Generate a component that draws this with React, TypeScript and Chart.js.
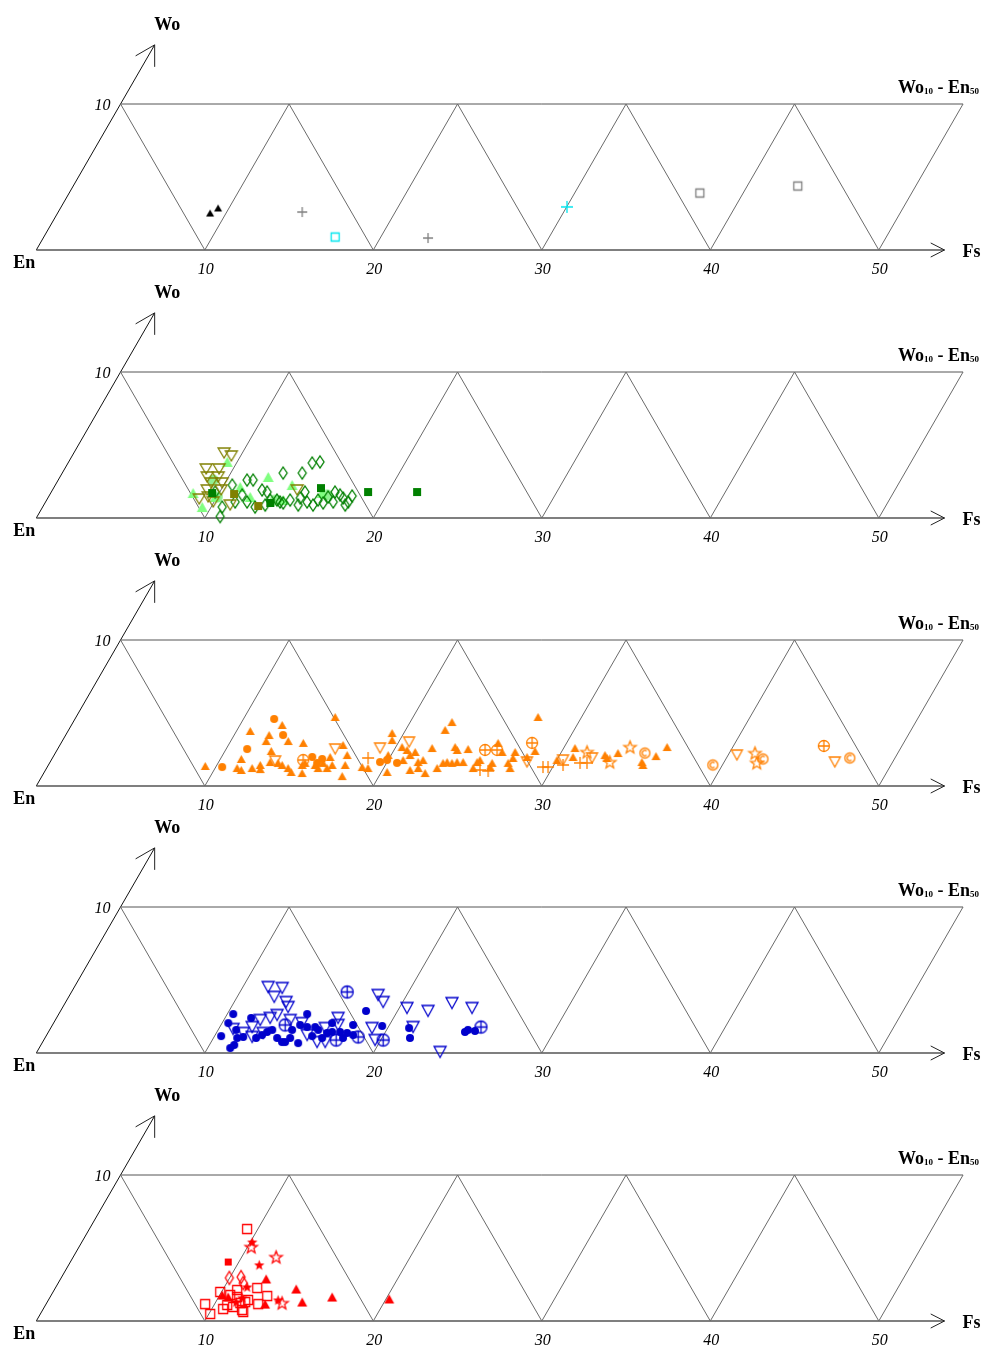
import React, { useEffect, useRef } from 'react';
import { Chart, registerables } from 'chart.js';
Chart.register(...registerables);

// ---- axis / grid data (Fs %, Wo %) ----
const FS_TICKS = [10, 20, 30, 40, 50];
const GRID_FS = [0, 10, 20, 30, 40, 50];
const WO_TOP = 10;
const FS_ARROW_END = 53.9;
const WO_ARROW_END = 14.05;

// ---- panel 1 data: [Fs, Wo] ----
const P1_BLACK_TRI = [[9.05, 2.53], [9.35, 2.88]];
const P1_GRAY_PLUS = [[14.48, 2.6], [22.84, 0.82]];
const P1_CYAN_SQUARE = [[17.29, 0.89]];
const P1_CYAN_PLUS = [[30.02, 2.95]];
const P1_GRAY_SQUARE = [[37.43, 3.9], [43.0, 4.38]];

// ---- panel 2 ----
const P2_OLIVE_TRI_DOWN = [[8.92, 4.45], [9.45, 4.25], [8.4, 3.36], [9.17, 3.36], [8.74, 2.81], [9.39, 2.81], [9.18, 2.4], [9.83, 2.4], [9.18, 1.92], [10.01, 1.92], [9.48, 1.44], [9.02, 1.3], [9.95, 1.1], [11.06, 0.89], [14.52, 1.92]];
const P2_LIGHT_TRI = [[9.41, 3.84], [12.36, 2.81], [8.45, 1.71], [9.47, 0.75], [11.04, 2.12], [14.05, 2.26], [16.1, 1.71], [11.97, 1.44], [14.04, 1.23], [9.9, 1.44]];
const P2_LIGHT_BLOB = [[9.2, 2.6], [10.02, 1.44], [16.47, 1.58], [13.56, 1.23]];
const P2_GREEN_DIAMOND = [[14.92, 3.84], [14.49, 3.77], [13.11, 3.08], [14.24, 3.08], [11.21, 2.6], [11.57, 2.6], [10.5, 2.26], [12.44, 1.92], [12.81, 1.78], [15.06, 1.78], [16.84, 1.78], [11.96, 1.1], [10.86, 0.1], [13.67, 1.23], [13.92, 1.1], [14.14, 1.03], [15.52, 1.1], [15.98, 0.89], [16.51, 1.03], [17.07, 1.1], [17.53, 1.37], [17.96, 1.1], [15.1, 0.89], [13.14, 0.89], [12.61, 0.75], [10.66, 0.75], [11.25, 1.1], [14.45, 1.23], [17.24, 1.58], [17.89, 0.89], [13.27, 1.23], [11.43, 1.58], [14.98, 1.37], [16.11, 1.23], [16.6, 1.44], [9.73, 1.78], [17.99, 1.51]];
const P2_GREEN_SQUARE = [[15.87, 2.05], [18.8, 1.78], [21.71, 1.78], [13.37, 1.03], [9.58, 1.71]];
const P2_OLIVE_SQUARE = [[10.92, 1.64], [12.76, 0.82]];

// ---- panel 3 ----
const P3_TRI = [[9.34, 1.37], [10.81, 3.77], [12.5, 4.18], [12.07, 3.49], [12.1, 3.08], [13.41, 3.08], [12.74, 2.4], [14.37, 2.95], [11.24, 1.85], [11.3, 1.23], [11.61, 1.1], [12.19, 1.23], [12.57, 1.44], [12.71, 1.16], [13.06, 1.64], [13.56, 1.58], [13.87, 1.44], [14.33, 1.23], [14.64, 0.96], [15.33, 0.89], [15.06, 1.44], [15.16, 1.58], [15.83, 1.44], [16.11, 1.23], [16.23, 1.58], [16.64, 1.23], [16.44, 1.99], [16.84, 1.44], [15.37, 4.73], [16.8, 2.81], [17.39, 2.12], [17.61, 1.44], [17.81, 0.68], [18.69, 1.3], [19.07, 1.23], [19.3, 3.63], [19.54, 3.15], [19.82, 2.12], [20.37, 2.67], [20.77, 2.47], [21.12, 2.12], [21.32, 2.33], [20.88, 1.78], [21.84, 1.64], [22.06, 1.78], [22.19, 2.6], [22.34, 3.84], [21.63, 1.1], [22.05, 1.23], [22.63, 0.89], [23.17, 1.23], [23.35, 1.58], [20.34, 0.96], [22.48, 4.38], [27.41, 4.73], [23.52, 2.67], [23.74, 2.47], [24.36, 2.53], [23.56, 1.64], [23.88, 1.58], [24.15, 1.64], [24.51, 1.64], [25.34, 1.64], [25.44, 1.78], [25.31, 1.23], [26.26, 1.58], [26.28, 1.3], [27.21, 1.58], [27.5, 1.23], [27.25, 2.33], [27.33, 1.92], [25.93, 2.95], [26.48, 2.33], [28.13, 1.99], [28.4, 2.4], [30.01, 1.78], [30.67, 2.6], [30.86, 1.99], [32.69, 2.12], [32.91, 1.92], [33.39, 2.26], [35.75, 2.05], [36.1, 2.67], [35.12, 1.64], [35.28, 1.44]];
const P3_CIRCLE = [[11.82, 4.59], [12.9, 3.49], [11.25, 2.53], [10.38, 1.3], [15.38, 1.99], [16.04, 1.85], [15.88, 1.58], [19.58, 1.64], [19.93, 1.78], [20.62, 1.58]];
const P3_TRI_DOWN = [[16.47, 2.53], [13.32, 1.71], [19.1, 2.6], [20.62, 3.01], [28.3, 1.64], [30.37, 1.78], [32.02, 1.92], [40.52, 2.12], [46.57, 1.64]];
const P3_CIRCLE_CROSS = [[14.95, 1.78], [25.4, 2.47], [26.11, 2.47], [27.95, 2.95], [45.37, 2.74]];
const P3_PLUS = [[18.73, 1.92], [25.78, 1.1], [26.3, 1.03], [29.42, 1.3], [29.72, 1.3], [30.54, 1.44], [31.48, 1.58], [31.89, 1.58]];
const P3_STAR = [[31.52, 2.33], [33.22, 1.64], [33.9, 2.67], [41.52, 2.26], [41.97, 1.58]];
const P3_COPYRIGHT = [[34.99, 2.26], [39.43, 1.44], [42.2, 1.85], [47.32, 1.92]];

// ---- panel 4 ----
const P4_TRI_DOWN = [[11.5, 4.52], [12.37, 4.45], [12.2, 3.84], [13.08, 3.49], [13.37, 3.15], [18.3, 3.97], [18.84, 3.49], [20.46, 3.08], [21.81, 2.88], [22.96, 3.42], [24.32, 3.08], [23.93, 0.07], [12.99, 2.6], [12.68, 2.4], [12.16, 2.26], [11.92, 1.78], [13.94, 2.26], [14.75, 2.05], [16.71, 2.4], [16.95, 1.92], [16.29, 1.71], [16.29, 0.75], [16.77, 0.75], [19.07, 1.71], [19.66, 0.89], [21.47, 1.78], [10.86, 1.64], [11.6, 1.37], [12.26, 1.1], [12.78, 1.37], [15.46, 1.23]];
const P4_CIRCLE_CROSS = [[16.36, 4.18], [13.81, 1.92], [17.35, 0.89], [18.55, 1.1], [20.14, 0.89], [25.5, 1.78]];
const P4_CIRCLE = [[10.35, 2.67], [11.55, 2.4], [14.74, 2.67], [18.13, 2.88], [10.37, 2.05], [10.39, 1.16], [11.34, 0.34], [11.47, 0.55], [11.41, 1.03], [11.73, 1.1], [12.98, 1.44], [13.21, 1.58], [13.78, 1.03], [14.21, 0.75], [14.39, 0.75], [14.39, 1.58], [15.2, 0.68], [14.7, 1.92], [15.18, 1.78], [15.66, 1.78], [15.94, 1.58], [16.57, 1.37], [16.84, 1.44], [17.31, 1.44], [17.76, 1.37], [17.84, 1.92], [16.53, 2.05], [18.19, 1.23], [19.6, 1.85], [21.27, 1.71], [21.66, 1.03], [24.72, 1.44], [24.83, 1.58], [25.28, 1.51], [11.07, 1.58], [12.53, 1.03], [12.78, 1.23], [14.55, 1.03], [15.79, 1.16], [16.45, 1.03], [17.69, 1.03]];

// ---- panel 5 ----
const P5_SQUARE = [[9.36, 6.3], [9.92, 1.99], [9.44, 1.16], [10.08, 0.48], [11.98, 2.26], [12.85, 1.71], [12.59, 1.16], [10.68, 0.82], [10.62, 1.78], [11.1, 1.64], [11.49, 1.23], [11.75, 1.3], [11.85, 1.44], [10.78, 1.1], [11.2, 0.96], [11.84, 0.75], [11.97, 0.62], [10.86, 2.12]];
const P5_SQUARE_FILL = [[9.37, 4.04]];
const P5_STAR = [[10.22, 5.07], [12.04, 4.38], [13.97, 1.23]];
const P5_STAR_FILL = [[10.11, 5.41], [11.31, 3.84], [11.35, 2.33], [13.63, 1.44], [11.43, 1.58], [11.21, 1.3]];
const P5_DIAMOND = [[9.98, 2.95], [10.65, 3.01], [10.98, 2.6]];
const P5_TRI = [[12.2, 2.88], [14.33, 2.19], [15.13, 1.3], [16.74, 1.64], [20.19, 1.51], [13.0, 1.16], [10.14, 1.78], [10.57, 1.64]];

// ---- layout constants (pixels) ----
const W = 985;
const H = 290;
const X0 = 36.3;
const XU = 16.85;
const BASE = 250;
const YU = 14.6;
const PANEL_TOPS = [0, 268, 536, 803, 1071];

type Series = { data: number[][]; kind: string; color: string; w: number; h?: number };

const PANELS: Series[][] = [
  [
    { data: P1_BLACK_TRI, kind: 'triUp', color: '#000000', w: 8, h: 7 },
    { data: P1_GRAY_PLUS, kind: 'plus', color: '#808080', w: 10 },
    { data: P1_CYAN_SQUARE, kind: 'square', color: '#00e5ee', w: 9 },
    { data: P1_CYAN_PLUS, kind: 'plus', color: '#00e5ee', w: 12 },
    { data: P1_GRAY_SQUARE, kind: 'square', color: '#808080', w: 9 },
  ],
  [
    { data: P2_GREEN_SQUARE, kind: 'squareFill', color: '#008000', w: 8 },
    { data: P2_OLIVE_SQUARE, kind: 'squareFill', color: '#808000', w: 8 },
    { data: P2_OLIVE_TRI_DOWN, kind: 'triDown', color: '#808000', w: 12, h: 10 },
    { data: P2_GREEN_DIAMOND, kind: 'diamond', color: '#008000', w: 8, h: 12 },
    { data: P2_LIGHT_TRI, kind: 'triUp', color: '#80ff80', w: 11, h: 10 },
    { data: P2_LIGHT_BLOB, kind: 'circle', color: '#90f090', w: 11 },
  ],
  [
    { data: P3_TRI, kind: 'triUp', color: '#ff8000', w: 9, h: 8 },
    { data: P3_CIRCLE, kind: 'circle', color: '#ff8000', w: 8 },
    { data: P3_TRI_DOWN, kind: 'triDown', color: '#ff8000', w: 11, h: 10 },
    { data: P3_CIRCLE_CROSS, kind: 'circleCross', color: '#ff8000', w: 12 },
    { data: P3_PLUS, kind: 'plus', color: '#ff8000', w: 12 },
    { data: P3_STAR, kind: 'star', color: '#ff8000', w: 13 },
    { data: P3_COPYRIGHT, kind: 'copyright', color: '#ff8000', w: 11 },
  ],
  [
    { data: P4_CIRCLE, kind: 'circle', color: '#0000cc', w: 8 },
    { data: P4_TRI_DOWN, kind: 'triDown', color: '#0000cc', w: 12, h: 11 },
    { data: P4_CIRCLE_CROSS, kind: 'circleCross', color: '#0000cc', w: 13 },
  ],
  [
    { data: P5_SQUARE, kind: 'square', color: '#ff0000', w: 10 },
    { data: P5_SQUARE_FILL, kind: 'squareFill', color: '#ff0000', w: 7 },
    { data: P5_STAR, kind: 'star', color: '#ff0000', w: 13 },
    { data: P5_STAR_FILL, kind: 'starFill', color: '#ff0000', w: 11 },
    { data: P5_DIAMOND, kind: 'diamond', color: '#ff0000', w: 8, h: 13 },
    { data: P5_TRI, kind: 'triUp', color: '#ff0000', w: 10, h: 9 },
  ],
];

function makeMarker(kind: string, color: string, w: number, h?: number): HTMLCanvasElement {
  const hh0 = h ?? w;
  const pad = 2;
  const c = document.createElement('canvas');
  c.width = Math.ceil(w + pad * 2);
  c.height = Math.ceil(hh0 + pad * 2);
  const ctx = c.getContext('2d')!;
  ctx.translate(c.width / 2, c.height / 2);
  ctx.strokeStyle = color;
  ctx.fillStyle = color;
  ctx.lineWidth = 1.3;
  const hw = w / 2;
  const hh = hh0 / 2;
  ctx.beginPath();
  const starPath = () => {
    const ro = hw, ri = hw * 0.42;
    for (let i = 0; i < 10; i++) {
      const r = i % 2 === 0 ? ro : ri;
      const a = -Math.PI / 2 + (i * Math.PI) / 5;
      const x = r * Math.cos(a), y = r * Math.sin(a) + hw * 0.08;
      if (i === 0) ctx.moveTo(x, y); else ctx.lineTo(x, y);
    }
    ctx.closePath();
  };
  switch (kind) {
    case 'triUp':
      ctx.moveTo(0, -hh); ctx.lineTo(hw, hh); ctx.lineTo(-hw, hh); ctx.closePath(); ctx.fill();
      break;
    case 'triDown':
      ctx.moveTo(-hw, -hh); ctx.lineTo(hw, -hh); ctx.lineTo(0, hh); ctx.closePath(); ctx.stroke();
      break;
    case 'circle':
      ctx.arc(0, 0, hw, 0, Math.PI * 2); ctx.fill();
      break;
    case 'circleCross':
      ctx.arc(0, 0, hw - 0.5, 0, Math.PI * 2);
      ctx.moveTo(-hw + 0.5, 0); ctx.lineTo(hw - 0.5, 0);
      ctx.moveTo(0, -hw + 0.5); ctx.lineTo(0, hw - 0.5);
      ctx.stroke();
      break;
    case 'plus':
      ctx.moveTo(-hw, 0); ctx.lineTo(hw, 0); ctx.moveTo(0, -hh); ctx.lineTo(0, hh); ctx.stroke();
      break;
    case 'square':
      ctx.rect(-hw + 0.5, -hh + 0.5, w - 1, hh0 - 1); ctx.stroke();
      break;
    case 'squareFill':
      ctx.rect(-hw, -hh, w, hh0); ctx.fill();
      break;
    case 'diamond':
      ctx.moveTo(0, -hh); ctx.lineTo(hw, 0); ctx.lineTo(0, hh); ctx.lineTo(-hw, 0); ctx.closePath(); ctx.stroke();
      break;
    case 'star':
      starPath(); ctx.stroke();
      break;
    case 'starFill':
      starPath(); ctx.fill();
      break;
    case 'copyright':
      ctx.arc(0, 0, hw - 0.5, 0, Math.PI * 2); ctx.stroke();
      ctx.beginPath();
      ctx.arc(0, 0, hw * 0.5, Math.PI * 0.28, Math.PI * 1.72); ctx.stroke();
      break;
  }
  return c;
}

const toXY = (pts: number[][]) => pts.map(([fs, wo]) => ({ x: fs + wo / 2, y: wo }));

const ternaryPlugin = {
  id: 'ternaryDecor',
  afterDraw(chart: any) {
    const ctx = chart.ctx as CanvasRenderingContext2D;
    const xs = chart.scales.x, ys = chart.scales.y;
    const px = (fs: number, wo: number) => [xs.getPixelForValue(fs + wo / 2), ys.getPixelForValue(wo)];
    ctx.save();
    // arrowheads
    ctx.strokeStyle = '#222';
    ctx.lineWidth = 1;
    const [fx, fy] = px(FS_ARROW_END, 0);
    const fa = (27 * Math.PI) / 180, fl = 15.5;
    ctx.beginPath();
    ctx.moveTo(fx - fl * Math.cos(fa), fy - fl * Math.sin(fa));
    ctx.lineTo(fx, fy);
    ctx.lineTo(fx - fl * Math.cos(fa), fy + fl * Math.sin(fa));
    ctx.stroke();
    const [ox, oy] = px(0, 0);
    const [tx, ty] = px(0, WO_ARROW_END);
    const back = Math.atan2(oy - ty, ox - tx);
    const wa = (30 * Math.PI) / 180, wl = 22;
    ctx.beginPath();
    ctx.moveTo(tx + wl * Math.cos(back + wa), ty + wl * Math.sin(back + wa));
    ctx.lineTo(tx, ty);
    ctx.lineTo(tx + wl * Math.cos(back - wa), ty + wl * Math.sin(back - wa));
    ctx.stroke();

    // labels
    ctx.fillStyle = '#000';
    ctx.textBaseline = 'alphabetic';
    ctx.font = 'bold 18px "Liberation Serif", serif';
    ctx.textAlign = 'center';
    ctx.fillText('Wo', tx + 12.5, ty - 15);
    ctx.textAlign = 'left';
    ctx.fillText('En', ox - 23, oy + 18);
    ctx.fillText('Fs', fx + 18, fy + 7);

    ctx.font = 'italic 16px "Liberation Serif", serif';
    ctx.textAlign = 'center';
    FS_TICKS.forEach((t) => {
      const [x, y] = px(t, 0);
      ctx.fillText(String(t), x + 1, y + 24);
    });
    const [lx, ly] = px(0, WO_TOP);
    ctx.textAlign = 'right';
    ctx.fillText(String(WO_TOP), lx - 10, ly + 6);

    // Wo10 - En50
    const [rx, ry] = px(GRID_FS[GRID_FS.length - 1], WO_TOP);
    let cx = rx - 65;
    const by = ry - 11;
    ctx.textAlign = 'left';
    const seg = (t: string, font: string, dy: number) => {
      ctx.font = font;
      ctx.fillText(t, cx, by + dy);
      cx += ctx.measureText(t).width;
    };
    const big = 'bold 18px "Liberation Serif", serif';
    const small = 'bold 9px "Liberation Serif", serif';
    seg('Wo', big, 0);
    seg('10', small, 1);
    seg(' - En', big, 0);
    seg('50', small, 1);
    ctx.restore();
  },
};

function Panel({ series, top }: { series: Series[]; top: number }) {
  const ref = useRef<HTMLCanvasElement>(null);
  useEffect(() => {
    const zig: { x: number; y: number }[] = [];
    GRID_FS.forEach((fs, i) => {
      if (i > 0) zig.push({ x: fs, y: 0 });
      zig.push({ x: fs + WO_TOP / 2, y: WO_TOP });
    });
    const lineDs = (data: { x: number; y: number }[], color: string, width: number) => ({
      data,
      showLine: true,
      borderColor: color,
      borderWidth: width,
      pointRadius: 0,
      fill: false,
      order: 100,
    });
    const datasets: any[] = [
      lineDs(zig, '#6a6a6a', 1),
      lineDs([{ x: GRID_FS[0] + WO_TOP / 2, y: WO_TOP }, { x: GRID_FS[GRID_FS.length - 1] + WO_TOP / 2, y: WO_TOP }], '#555', 1),
      lineDs([{ x: 0, y: 0 }, { x: FS_ARROW_END, y: 0 }], '#555', 1.5),
      lineDs([{ x: 0, y: 0 }, { x: WO_ARROW_END / 2, y: WO_ARROW_END }], '#111', 1),
    ];
    series.forEach((s) => {
      datasets.push({
        data: toXY(s.data),
        pointStyle: makeMarker(s.kind, s.color, s.w, s.h),
        pointRadius: 4,
        showLine: false,
        order: 0,
      });
    });
    const chart = new Chart(ref.current!, {
      type: 'scatter',
      data: { datasets },
      options: {
        animation: false,
        responsive: false,
        devicePixelRatio: 1,
        events: [],
        layout: { padding: 0, autoPadding: false },
        plugins: { legend: { display: false }, tooltip: { enabled: false } },
        scales: {
          x: { type: 'linear', display: false, min: -X0 / XU, max: (W - X0) / XU },
          y: { type: 'linear', display: false, min: -(H - BASE) / YU, max: BASE / YU },
        },
      },
      plugins: [ternaryPlugin],
    } as any);
    return () => chart.destroy();
  }, [series]);
  return (
    <canvas
      ref={ref}
      width={W}
      height={H}
      style={{ position: 'absolute', left: 0, top, width: W, height: H }}
    />
  );
}

export default function App() {
  return (
    <div style={{ position: 'absolute', left: 0, top: 0, width: 985, height: 1345, overflow: 'hidden', background: '#fff' }}>
      {PANELS.map((s, i) => (
        <Panel key={i} series={s} top={PANEL_TOPS[i]} />
      ))}
    </div>
  );
}
